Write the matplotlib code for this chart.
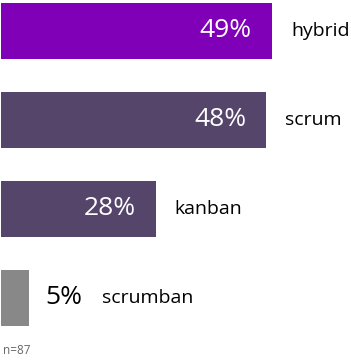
import matplotlib

matplotlib.use("Agg")
import matplotlib.pyplot as plt

categories = ["hybrid", "scrum", "kanban", "scrumban"]
shares = [49, 48, 28, 5]
colors = ["#8000B8", "#55456B", "#55456B", "#888888"]
note = "n=87"

plt.rcParams["font.family"] = ["Open Sans", "DejaVu Sans"]

fig = plt.figure(figsize=(3.51, 3.61), dpi=100)
ax = fig.add_axes([1 / 351, 0, 350 / 351, 1])
ax.set_xlim(0, 350 / 5.53)
ax.set_ylim(3.708, -0.348)
ax.axis("off")

pos = list(range(len(categories)))
ax.barh(pos, shares, height=0.63, color=colors)

for y, v, cat in zip(pos, shares, categories):
    if v >= 10:
        ax.annotate(f"{v}%", (v, y), xytext=(-14.4, 0), textcoords="offset points",
                    ha="right", va="center", fontsize=19, color="white")
        cat_off = 13.7
    else:
        ax.annotate(f"{v}%", (v, y), xytext=(12.2, 0), textcoords="offset points",
                    ha="left", va="center", fontsize=19, color="black")
        cat_off = 52.5
    ax.annotate(cat, (v, y), xytext=(cat_off, 0), textcoords="offset points",
                ha="left", va="center", fontsize=14, color="black")

fig.text(3 / 351, 1 - 350 / 361, note, ha="left", va="center", fontsize=8.5, color="#666666")

fig.savefig("out.png", dpi=100)
